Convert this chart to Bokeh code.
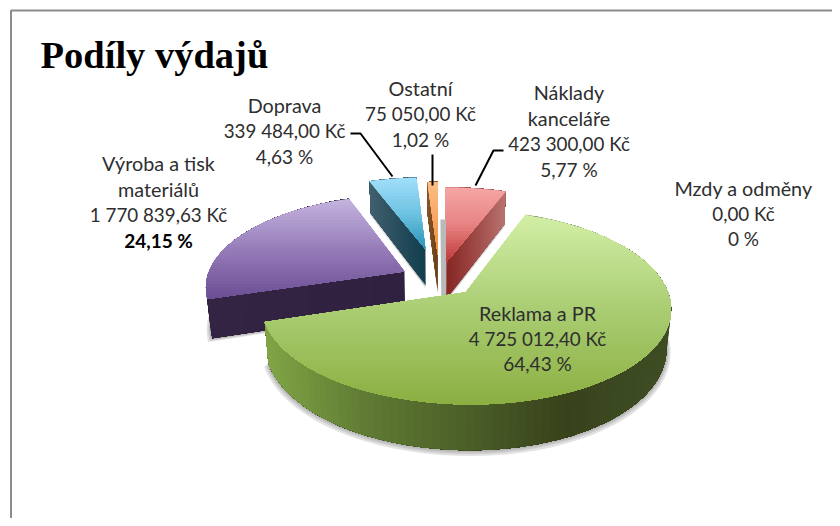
import math
from bokeh.plotting import figure
from bokeh.models import Range1d, ColumnDataSource
from bokeh.core.properties import value
from bokeh.embed import file_html
from bokeh.resources import INLINE

# ---- data (order: clockwise from 12 o'clock)
categories = ["Náklady kanceláře", "Mzdy a odměny", "Reklama a PR",
              "Výroba a tisk materiálů", "Doprava", "Ostatní"]
amounts = [423300.00, 0.00, 4725012.40, 1770839.63, 339484.00, 75050.00]
amount_labels = ["423 300,00 Kč", "0,00 Kč", "4 725 012,40 Kč",
                 "1 770 839,63 Kč", "339 484,00 Kč", "75 050,00 Kč"]
percent_labels = ["5,77 %", "0 %", "64,43 %", "24,15 %", "4,63 %", "1,02 %"]
title_text = "Podíly výdajů"

# ---- styles
explode = [0.20, 0.0, 0.19, 0.20, 0.36, 0.28]
top_grad = [
    [(245, 165, 165), (232, 130, 130), (190, 60, 58)],
    None,
    [(210, 238, 165), (170, 205, 115), (140, 175, 66)],
    [(196, 178, 222), (150, 125, 185), (108, 78, 148)],
    [(160, 222, 250), (110, 195, 225), (45, 150, 185)],
    [(252, 190, 130), (248, 165, 100), (235, 140, 55)],
]
wall_grad = [
    [(140, 50, 48), (150, 80, 78)],
    None,
    [(130, 165, 70), (96, 124, 52), (76, 96, 40), (56, 66, 28), (62, 78, 36)],
    [(47, 33, 63), (47, 33, 63)],
    [(60, 90, 105), (20, 65, 80)],
    [(130, 80, 35), (90, 55, 20)],
]
cut_grad = [  # from apex to rim
    [(135, 38, 35), (185, 115, 112)],
    None,
    [(90, 110, 50), (90, 110, 50)],
    [(47, 33, 63), (50, 36, 66)],
    [(18, 62, 78), (66, 96, 110)],
    [(105, 65, 25), (135, 85, 40)],
]
CX, CY, A, B, H, K = 439.0, 279.0, 198.0, 91.0, 38.0, 0.15


def proj(u, v, z=0.0):
    s = 1.0 / (1.0 + K * v)
    return (CX + A * u * s * (1 - 0.02 * z), CY - B * v * s + H * s * z)


def mix(stops, t):
    t = min(max(t, 0.0), 1.0) * (len(stops) - 1)
    i = min(int(t), len(stops) - 2)
    f = t - i
    c = [round(stops[i][k] + (stops[i + 1][k] - stops[i][k]) * f) for k in range(3)]
    return "#%02x%02x%02x" % tuple(c)


def clip_below(poly, ymin):
    out = []
    for i in range(len(poly)):
        a, b = poly[i], poly[(i + 1) % len(poly)]
        ina, inb = a[1] >= ymin, b[1] >= ymin
        if ina:
            out.append(a)
        if ina != inb:
            t = (ymin - a[1]) / (b[1] - a[1])
            out.append((a[0] + (b[0] - a[0]) * t, ymin))
    return out


xs, ys, cols, alphas = [], [], [], []


def add(poly, color, alpha=1.0):
    if len(poly) < 3:
        return
    xs.append([q[0] for q in poly])
    ys.append([q[1] for q in poly])
    cols.append(color)
    alphas.append(alpha)


def sector(a0, a1, d, mid, z=0.0, r=1.0, n=60):
    ax, av = d * math.sin(mid), d * math.cos(mid)
    pts = [proj(ax, av, z)]
    for i in range(n + 1):
        a = a0 + (a1 - a0) * i / n
        pts.append(proj(ax + r * math.sin(a), av + r * math.cos(a), z))
    return pts


total = sum(amounts)
edges = [0.0]
for val in amounts:
    edges.append(edges[-1] + val / total * 2 * math.pi)

for idx in [3, 4, 5, 0, 2]:
    a0, a1 = edges[idx], edges[idx + 1]
    mid = (a0 + a1) / 2
    d = explode[idx]
    ax, av = d * math.sin(mid), d * math.cos(mid)
    if idx == 4:
        # grey shadow that the first slice throws to the left, behind the thin slices
        m0 = (edges[0] + edges[1]) / 2
        rx, rv = explode[0] * math.sin(m0), explode[0] * math.cos(m0)
        low = proj(rx, rv, 1)
        high = proj(rx, rv + 1, 1)
        add([(low[0] - 5, low[1]), (low[0], low[1]), (high[0], high[1]), (high[0] - 5, high[1])], "#a8a8a8", 0.8)
    # soft shadow
    for r, dy in [(1.02, 3), (1.012, 2), (1.006, 1)]:
        sh = [(q[0], q[1] + dy) for q in sector(a0, a1, d, mid, 1.0, r)]
        add(sh, "#707070", 0.2)
    # rim wall: each polygon runs to the end of the rim, so no seams appear
    n = 110
    rim = [(ax + math.sin(a0 + (a1 - a0) * i / n), av + math.cos(a0 + (a1 - a0) * i / n)) for i in range(n + 1)]
    px = [proj(*q)[0] for q in rim]
    x_lo, x_hi = min(px), max(px)
    for i in range(n):
        part = rim[i:]
        poly = [proj(*q) for q in part] + [proj(q[0], q[1], 1) for q in reversed(part)]
        add(poly, mix(wall_grad[idx], (px[i] - x_lo) / max(x_hi - x_lo, 1)))
    # visible cut faces
    for ang, is_start in [(a0, True), (a1, False)]:
        vis = math.sin(ang) < -1e-6 if is_start else math.sin(ang) > 1e-6
        if not vis:
            continue
        m = 24
        for j in range(m):
            f0 = j / m
            q = [proj(ax + f0 * math.sin(ang), av + f0 * math.cos(ang)),
                 proj(ax + math.sin(ang), av + math.cos(ang)),
                 proj(ax + math.sin(ang), av + math.cos(ang), 1),
                 proj(ax + f0 * math.sin(ang), av + f0 * math.cos(ang), 1)]
            add(q, mix(cut_grad[idx], (j + 0.5) / m))
    # top face with vertical gradient
    top = sector(a0, a1, d, mid)
    y_lo, y_hi = min(q[1] for q in top), max(q[1] for q in top)
    bands = max(int((y_hi - y_lo) / 3), 8)
    for b in range(bands):
        y = y_lo + (y_hi - y_lo) * b / bands
        add(clip_below(top, y), mix(top_grad[idx], b / (bands - 1)))

p = figure(width=832, height=518, x_range=Range1d(0, 832), y_range=Range1d(518, 0),
           x_axis_location=None, y_axis_location=None, toolbar_location=None,
           output_backend="svg", min_border=0, outline_line_color=None,
           background_fill_color="white", border_fill_color="white")
p.grid.visible = False

# chart-area border
p.line([10.5, 10.5, 832], [518, 10, 10], line_color="#8c8c8c", line_width=2)

p.patches("xs", "ys", source=ColumnDataSource(dict(xs=xs, ys=ys, c=cols, a=alphas)),
          fill_color="c", fill_alpha="a", line_color=None)

# leader lines
leaders = [([350, 360, 392], [133, 133, 176]), ([432, 432], [154, 185]), ([503, 493, 475], [150, 150, 185])]
for lx, ly in leaders:
    p.line(lx, ly, line_color="#000000", line_width=2)

# labels
layout = {0: (568.5, 91.5, ["Náklady", "kanceláře"]),
          1: (743, 187, ["Mzdy a odměny"]),
          2: (537, 312, ["Reklama a PR"]),
          3: (158, 162.5, ["Výroba a tisk", "materiálů"]),
          4: (284, 104.5, ["Doprava"]),
          5: (420, 87.5, ["Ostatní"])}
tx, ty, tt, tc, tw, ts = [], [], [], [], [], []
for i in range(len(categories)):
    x0, y0, name_lines = layout[i]
    rows = name_lines + [amount_labels[i], percent_labels[i]]
    for ln, line in enumerate(rows):
        is_pct = ln == len(rows) - 1
        is_amt = ln == len(rows) - 2
        strong = is_pct and percent_labels[i] == "24,15 %"
        tx.append(x0)
        ty.append(y0 + ln * 25.7)
        tt.append(line)
        tc.append("#000000" if strong else "#2e2e2e")
        tw.append("bold" if strong else "normal")
        ts.append("18.8px" if is_amt else ("19px" if is_pct else "19.8px"))
p.text("x", "y", text="t", source=ColumnDataSource(dict(x=tx, y=ty, t=tt, c=tc, w=tw, s=ts)),
       text_font=value("Lato"), text_font_size="s", text_align="center",
       text_baseline="middle", text_color="c", text_font_style="w")

p.text([40], [54], text=[title_text], text_font=value("Liberation Serif"), text_font_size="38.5px",
       text_font_style="bold", text_color="#000000", text_align="left", text_baseline="middle")

open("out.html", "w").write(file_html(p, INLINE))
